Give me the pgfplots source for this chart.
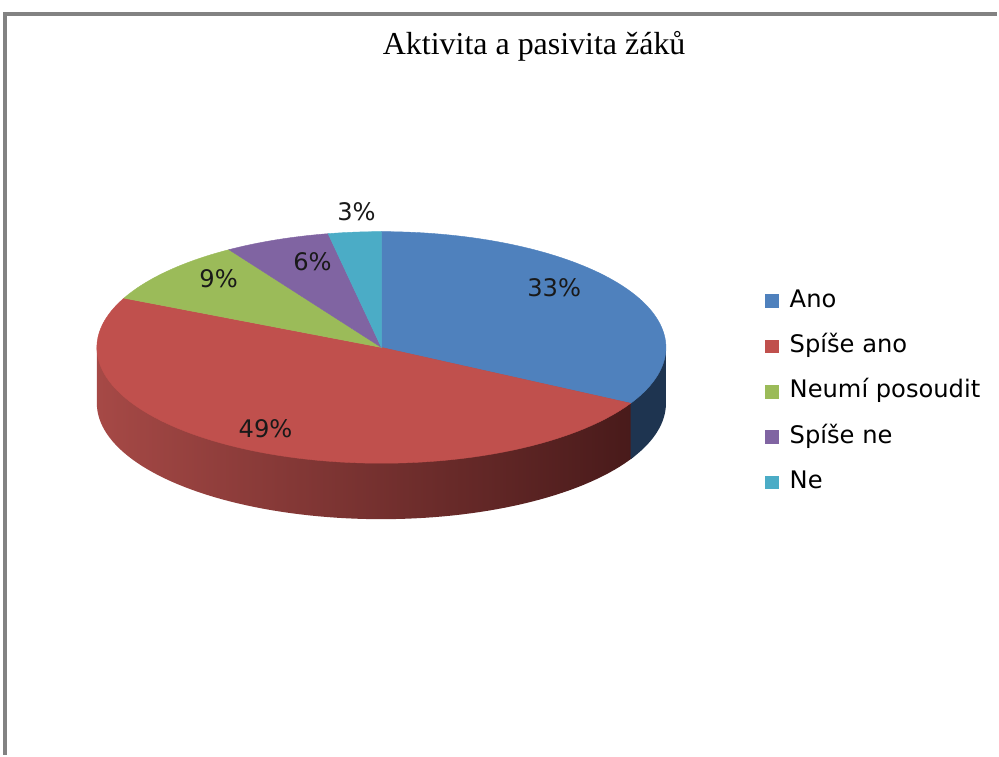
\documentclass[border=0pt]{standalone}
\usepackage{pgfplots}
\pgfplotsset{compat=1.18}
\usepackage{pgfplotstable}
\usepackage{fontspec}
\setmainfont{Liberation Serif}
\newfontfamily\lab{DejaVu Sans}

\definecolor{cAno}{HTML}{4F81BD}
\definecolor{cSpA}{HTML}{C0504D}
\definecolor{cNeu}{HTML}{9BBB59}
\definecolor{cSpN}{HTML}{8064A2}
\definecolor{cNe}{HTML}{4BACC6}
\definecolor{sideL}{RGB}{166,73,70}
\definecolor{sideR}{RGB}{72,26,26}
\definecolor{sideB}{RGB}{30,52,80}
\definecolor{frame}{RGB}{130,130,130}

\pgfplotstableread{
label value
Ano 33
SpiseAno 49
Neumi 9
SpiseNe 6
Ne 3
}\piedata

\pgfplotstablegetelem{0}{value}\of\piedata\let\vA\pgfplotsretval
\pgfplotstablegetelem{1}{value}\of\piedata\let\vB\pgfplotsretval
\pgfplotstablegetelem{2}{value}\of\piedata\let\vC\pgfplotsretval
\pgfplotstablegetelem{3}{value}\of\piedata\let\vD\pgfplotsretval
\pgfplotstablegetelem{4}{value}\of\piedata\let\vE\pgfplotsretval

\pgfmathsetmacro\aO{90}
\pgfmathsetmacro\aA{\aO-3.6*\vA}
\pgfmathsetmacro\aB{\aA-3.6*\vB}
\pgfmathsetmacro\aC{\aB-3.6*\vC}
\pgfmathsetmacro\aD{\aC-3.6*\vD}
\pgfmathsetmacro\aE{\aD-3.6*\vE}

\def\cx{382}
\def\cy{348}
\def\rx{285}
\def\ry{116}
\def\dep{56}
\pgfmathsetmacro\aAp{\aA+360}
\pgfmathsetmacro\aApp{\aA+361.5}
\pgfmathsetmacro\xAB{\cx+\rx*cos(\aA)}
\pgfmathsetmacro\xABp{\cx+\rx*cos(\aA+1.5)}
\pgfmathsetmacro\xL{\cx-\rx}
\pgfmathsetmacro\xR{\cx+\rx}

\begin{document}
\begin{tikzpicture}
\begin{axis}[
  scale only axis, width=499.5pt, height=378pt,
  xmin=0, xmax=999, ymin=0, ymax=756, y dir=reverse,
  hide axis, clip=false, samples=80,
  legend cell align=left,
  legend image code/.code={\fill[#1] (0pt,-3.4pt) rectangle (6.8pt,3.4pt);},
  legend style={at={(axis cs:766,290)}, anchor=north west, draw=none, fill=none,
    inner sep=0pt, row sep=11.75pt, column sep=5.5pt,
    nodes={inner sep=0pt, font=\lab\fontsize{12.1}{14}\selectfont,
      text height=8.6pt, text depth=2.4pt, anchor=west}},
]
% invisible page extent
\path (axis cs:0,0) rectangle (axis cs:999,756);
% front side of the pie
\addplot[forget plot, draw=none, left color=sideL, right color=sideR, domain=180:\aApp]
  ({\cx+\rx*cos(x)},{\cy+\dep-\ry*sin(x)}) -- (axis cs:\xABp,\cy) -- (axis cs:\xL,\cy) -- cycle;
\addplot[forget plot, draw=none, fill=sideB, domain=\aAp:360]
  ({\cx+\rx*cos(x)},{\cy+\dep-\ry*sin(x)}) -- (axis cs:\xR,\cy) -- (axis cs:\xAB,\cy) -- cycle;
% top slices
\addplot[forget plot, fill=cAno, draw=cAno, line width=0.2pt, domain=\aA:\aO]
  ({\cx+\rx*cos(x)},{\cy-\ry*sin(x)}) -- (axis cs:\cx,\cy) -- cycle;
\addplot[forget plot, fill=cSpA, draw=cSpA, line width=0.2pt, domain=\aB:\aA]
  ({\cx+\rx*cos(x)},{\cy-\ry*sin(x)}) -- (axis cs:\cx,\cy) -- cycle;
\addplot[forget plot, fill=cNeu, draw=cNeu, line width=0.2pt, domain=\aC:\aB, samples=20]
  ({\cx+\rx*cos(x)},{\cy-\ry*sin(x)}) -- (axis cs:\cx,\cy) -- cycle;
\addplot[forget plot, fill=cSpN, draw=cSpN, line width=0.2pt, domain=\aD:\aC, samples=20]
  ({\cx+\rx*cos(x)},{\cy-\ry*sin(x)}) -- (axis cs:\cx,\cy) -- cycle;
\addplot[forget plot, fill=cNe, draw=cNe, line width=0.2pt, domain=\aE:\aD, samples=20]
  ({\cx+\rx*cos(x)},{\cy-\ry*sin(x)}) -- (axis cs:\cx,\cy) -- cycle;

\addlegendimage{fill=cAno, draw=none}\addlegendentry{Ano}
\addlegendimage{fill=cSpA, draw=none}\addlegendentry{Spíše ano}
\addlegendimage{fill=cNeu, draw=none}\addlegendentry{Neumí posoudit}
\addlegendimage{fill=cSpN, draw=none}\addlegendentry{Spíše ne}
\addlegendimage{fill=cNe, draw=none}\addlegendentry{Ne}

% data labels
\begin{scope}[every node/.style={font=\lab\fontsize{12.1}{14}\selectfont, text=black!90}]
\node at (axis cs:555,288) {33\%};
\node at (axis cs:266,429) {49\%};
\node at (axis cs:219,279) {9\%};
\node at (axis cs:313,262) {6\%};
\node at (axis cs:357,212) {3\%};
\end{scope}

% title
\node at (axis cs:535,46) {\fontsize{16}{19}\selectfont Aktivita a pasivita žáků};

% frame
\draw[frame, line width=1.6pt] (axis cs:5,756) -- (axis cs:5,14) -- (axis cs:999,14);
\end{axis}
\end{tikzpicture}
\end{document}
